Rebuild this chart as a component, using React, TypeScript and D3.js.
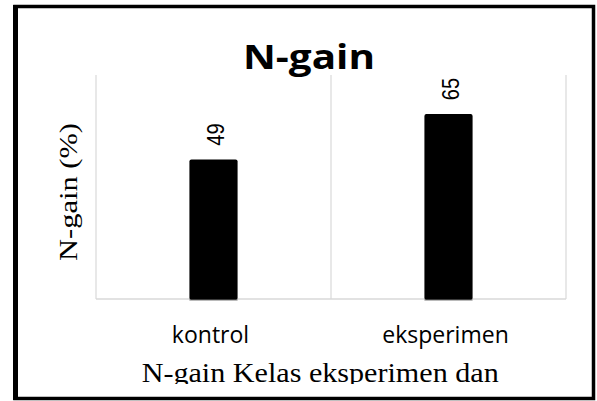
import * as d3 from "d3";

const categories = ["kontrol", "eksperimen"];
const values = [49, 65];
const title = "N-gain";
const yTitle = "N-gain (%)";
const xTitle = "N-gain Kelas eksperimen dan";

export default function App() {
  const W = 597;
  const H = 401;
  const plot = { left: 96, right: 566, top: 75, bottom: 299 };

  const x = d3.scaleBand<string>().domain(categories).range([plot.left, plot.right]).padding(0);
  const y = d3.scaleLinear().domain([0, 80]).range([plot.bottom, 71.4]);
  const barW = x.bandwidth() * 0.205;

  const grid = "#d9d9d9";
  const bounds = [plot.left, ...categories.map(c => (x(c) as number) + x.bandwidth())];

  return (
    <div style={{ position: "fixed", left: 0, top: 0 }}>
      <svg width={W} height={H} style={{ display: "block", background: "#fff" }}>
        <defs>
          <clipPath id="clipBottom">
            <rect x={0} y={0} width={W} height={384} />
          </clipPath>
        </defs>

        {/* outer frame */}
        <rect x={15} y={6.5} width={578.5} height={392} fill="none" stroke="#000" strokeWidth={3.5} />
        <line x1={15.5} x2={15.5} y1={5} y2={400} stroke="#000" strokeWidth={5} />

        {/* gridlines */}
        {bounds.map((b, i) => (
          <line key={i} x1={b} x2={b} y1={plot.top} y2={plot.bottom} stroke={grid} strokeWidth={1.2} />
        ))}
        <line x1={plot.left} x2={plot.right} y1={plot.bottom} y2={plot.bottom} stroke={grid} strokeWidth={1.5} />

        {/* bars */}
        {categories.map((c, i) => {
          const cx = (x(c) as number) + x.bandwidth() / 2;
          return (
            <g key={c}>
              <rect
                x={cx - barW / 2}
                y={y(values[i])}
                width={barW}
                height={plot.bottom + 1 - y(values[i])}
                rx={2}
                fill="#000"
              />
              <line x1={cx - barW / 2} x2={cx + barW / 2} y1={plot.bottom + 1} y2={plot.bottom + 1} stroke="#777" strokeWidth={1} />
              <text
                transform={`translate(${cx + 10},${y(values[i]) - 25}) rotate(-90)`}
                textAnchor="middle"
                fontFamily="Liberation Sans, Arial, sans-serif"
                fontSize={23}
                textLength={22.4}
                lengthAdjust="spacingAndGlyphs"
                fill="#000"
              >
                {values[i]}
              </text>
              <text
                x={cx - 3}
                y={343.3}
                textAnchor="middle"
                fontFamily="Open Sans, sans-serif"
                fontSize={23}
                fill="#000"
              >
                {c}
              </text>
            </g>
          );
        })}

        {/* title */}
        <text
          x={309}
          y={69.3}
          textAnchor="middle"
          fontFamily="Open Sans, sans-serif"
          fontWeight="bold"
          fontSize={34}
          textLength={132}
          lengthAdjust="spacingAndGlyphs"
          fill="#000"
        >
          {title}
        </text>

        {/* y axis title */}
        <text
          transform="translate(77.3,192) rotate(-90)"
          textAnchor="middle"
          fontFamily="Liberation Serif, serif"
          fontSize={25}
          textLength={138}
          lengthAdjust="spacingAndGlyphs"
          fill="#000"
        >
          {yTitle}
        </text>

        {/* x axis title, cut off at bottom */}
        <g clipPath="url(#clipBottom)">
          <text
            x={141.7}
            y={381.7}
            fontFamily="Liberation Serif, serif"
            fontSize={27}
            textLength={357}
            lengthAdjust="spacingAndGlyphs"
            fill="#000"
          >
            {xTitle}
          </text>
        </g>
      </svg>
    </div>
  );
}
